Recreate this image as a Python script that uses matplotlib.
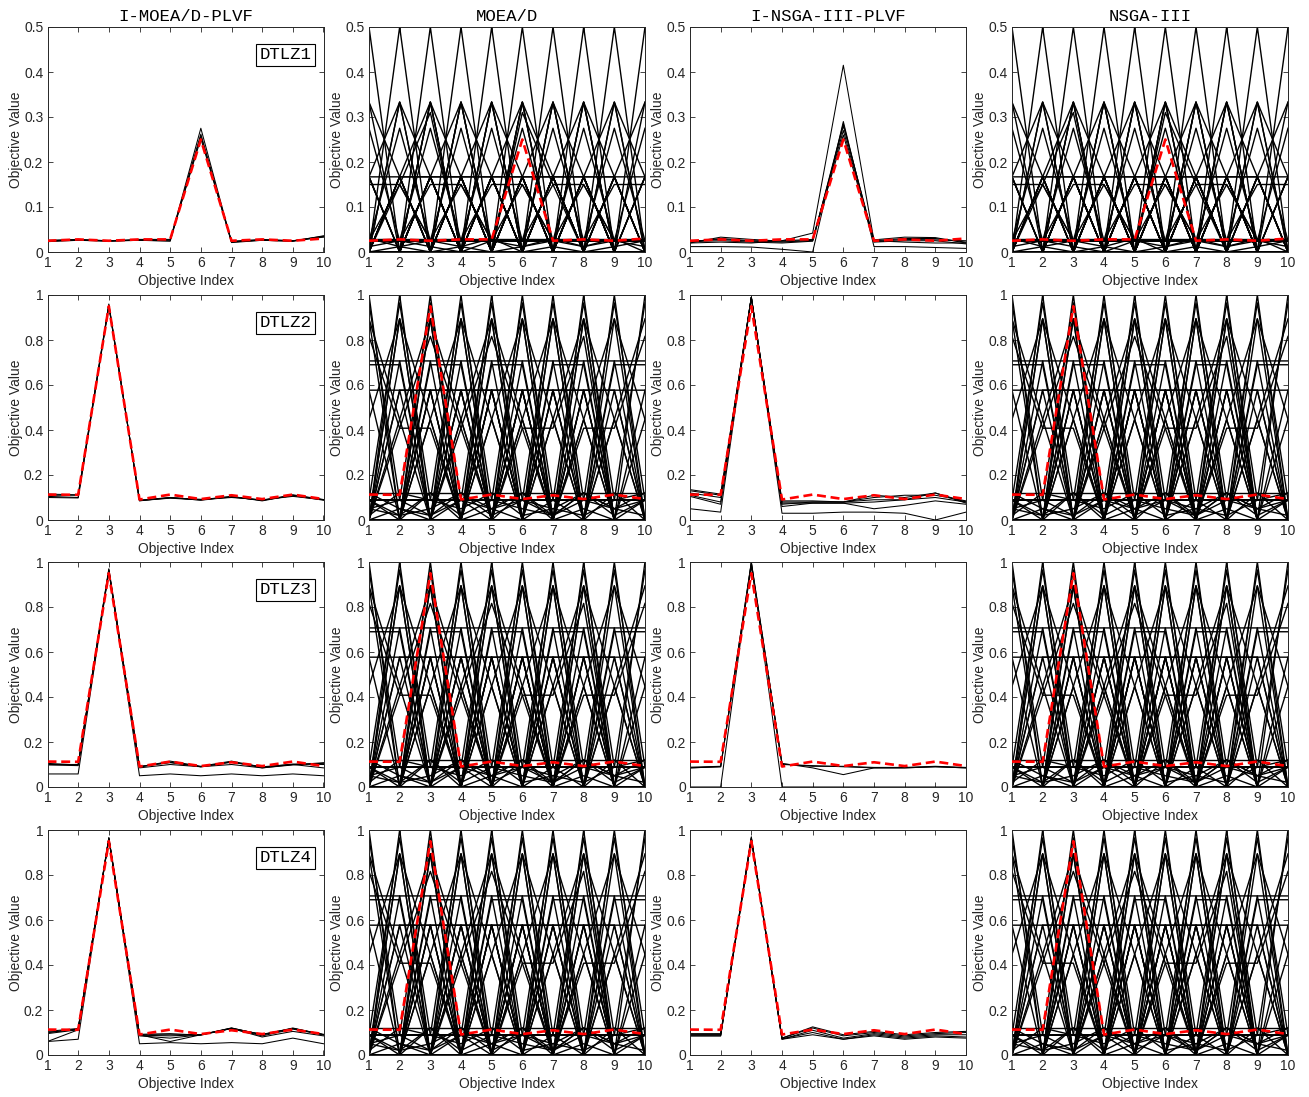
#!/usr/bin/env python3
"""Parallel-coordinate plots of final populations on 10-objective DTLZ1-4."""

import numpy as np
import matplotlib
matplotlib.use("Agg")
import matplotlib.pyplot as plt

OBJ_INDEX = np.arange(1, 11)

ALGORITHMS = ["I-MOEA/D-PLVF", "MOEA/D", "I-NSGA-III-PLVF", "NSGA-III"]
PROBLEMS = ["DTLZ1", "DTLZ2", "DTLZ3", "DTLZ4"]

# Reference (preferred) points, drawn as the red dashed line
REF_DTLZ1 = [0.025, 0.028, 0.025, 0.028, 0.028, 0.25, 0.025, 0.028, 0.025, 0.03]
REF_SPHERE = [0.113, 0.112, 0.95, 0.091, 0.113, 0.093, 0.11, 0.093, 0.113, 0.093]

# --- interactive methods: small populations around the reference point ---
IMOEAD_DTLZ1 = [
    [0.024, 0.027, 0.025, 0.026, 0.025, 0.275, 0.022, 0.027, 0.025, 0.035],
    [0.025, 0.027, 0.024, 0.027, 0.027, 0.262, 0.023, 0.026, 0.024, 0.034],
    [0.026, 0.028, 0.025, 0.028, 0.028, 0.252, 0.024, 0.028, 0.025, 0.033],
    [0.023, 0.026, 0.024, 0.026, 0.024, 0.258, 0.021, 0.026, 0.024, 0.036],
]
IMOEAD_DTLZ2 = [
    [0.105, 0.100, 0.955, 0.085, 0.100, 0.090, 0.105, 0.085, 0.110, 0.090],
    [0.100, 0.098, 0.950, 0.088, 0.100, 0.088, 0.102, 0.088, 0.108, 0.088],
    [0.110, 0.110, 0.960, 0.087, 0.098, 0.092, 0.100, 0.090, 0.105, 0.090],
    [0.115, 0.112, 0.955, 0.086, 0.097, 0.089, 0.104, 0.087, 0.112, 0.091],
]
IMOEAD_DTLZ3 = [
    [0.100, 0.100, 0.970, 0.090, 0.110, 0.090, 0.110, 0.090, 0.100, 0.105],
    [0.105, 0.098, 0.965, 0.088, 0.115, 0.092, 0.115, 0.088, 0.102, 0.100],
    [0.098, 0.095, 0.960, 0.092, 0.108, 0.090, 0.112, 0.085, 0.098, 0.108],
    [0.100, 0.100, 0.965, 0.085, 0.100, 0.090, 0.100, 0.085, 0.100, 0.085],
    [0.058, 0.058, 0.960, 0.050, 0.058, 0.050, 0.058, 0.050, 0.058, 0.050],
]
IMOEAD_DTLZ4 = [
    [0.100, 0.115, 0.965, 0.090, 0.090, 0.090, 0.120, 0.090, 0.120, 0.090],
    [0.105, 0.118, 0.960, 0.092, 0.095, 0.088, 0.118, 0.092, 0.118, 0.092],
    [0.060, 0.112, 0.960, 0.090, 0.060, 0.090, 0.118, 0.085, 0.115, 0.090],
    [0.060, 0.070, 0.965, 0.085, 0.075, 0.090, 0.118, 0.080, 0.105, 0.085],
    [0.095, 0.112, 0.962, 0.050, 0.055, 0.050, 0.055, 0.050, 0.075, 0.050],
    [0.100, 0.115, 0.965, 0.088, 0.085, 0.090, 0.120, 0.090, 0.118, 0.090],
]
INSGA_DTLZ1 = [
    [0.020, 0.022, 0.020, 0.025, 0.042, 0.415, 0.025, 0.022, 0.020, 0.020],
    [0.012, 0.012, 0.011, 0.006, 0.000, 0.290, 0.012, 0.012, 0.010, 0.008],
    [0.022, 0.030, 0.025, 0.025, 0.028, 0.270, 0.025, 0.030, 0.030, 0.022],
    [0.020, 0.033, 0.028, 0.024, 0.025, 0.280, 0.027, 0.033, 0.032, 0.020],
    [0.024, 0.028, 0.024, 0.022, 0.026, 0.260, 0.023, 0.028, 0.027, 0.025],
    [0.023, 0.025, 0.022, 0.020, 0.024, 0.285, 0.022, 0.025, 0.025, 0.018],
]
INSGA_DTLZ2 = [
    [0.130, 0.110, 0.990, 0.080, 0.080, 0.080, 0.090, 0.090, 0.100, 0.080],
    [0.120, 0.100, 0.990, 0.075, 0.075, 0.075, 0.080, 0.090, 0.120, 0.075],
    [0.135, 0.115, 0.990, 0.085, 0.085, 0.080, 0.100, 0.110, 0.110, 0.085],
    [0.110, 0.080, 0.990, 0.070, 0.080, 0.080, 0.110, 0.100, 0.120, 0.080],
    [0.105, 0.070, 0.990, 0.060, 0.075, 0.075, 0.050, 0.065, 0.085, 0.070],
    [0.050, 0.035, 0.990, 0.030, 0.030, 0.035, 0.035, 0.030, 0.000, 0.035],
]
INSGA_DTLZ3 = [
    [0.085, 0.090, 1.000, 0.100, 0.095, 0.090, 0.085, 0.085, 0.090, 0.085],
    [0.088, 0.092, 0.995, 0.102, 0.092, 0.092, 0.087, 0.087, 0.092, 0.087],
    [0.085, 0.090, 0.980, 0.105, 0.085, 0.055, 0.085, 0.085, 0.090, 0.085],
    [0.000, 0.000, 1.000, 0.000, 0.000, 0.000, 0.000, 0.000, 0.000, 0.000],
]
INSGA_DTLZ4 = [
    [0.090, 0.090, 0.965, 0.075, 0.120, 0.085, 0.100, 0.085, 0.095, 0.100],
    [0.085, 0.085, 0.960, 0.070, 0.110, 0.075, 0.095, 0.080, 0.090, 0.090],
    [0.090, 0.090, 0.965, 0.072, 0.100, 0.070, 0.090, 0.075, 0.085, 0.080],
    [0.095, 0.095, 0.970, 0.075, 0.125, 0.090, 0.105, 0.090, 0.100, 0.105],
    [0.085, 0.085, 0.960, 0.070, 0.090, 0.070, 0.085, 0.070, 0.080, 0.075],
]

# --- baseline methods: populations spread over the whole front ---
# each row is one solution, one character per objective, looked up in *_LEVELS
LINEAR_LEVELS = {"0": 0.0, "z": 0.012, "a": 0.025, "c": 0.03, "q": 0.15,
                 "s": 0.167, "p": 0.275, "r": 0.31, "t": 0.333, "h": 0.5}
LINEAR_ROWS = [
    "h000000000", "0h00000000", "00h0000000", "000h000000", "0000h00000",
    "00000h0000", "000000h000", "0000000h00", "00000000h0", "000000000h",
    "ts00000000", "st00000000", "0ts0000000", "0st0000000", "00ts000000",
    "00st000000", "000ts00000", "000st00000", "0000ts0000", "0000st0000",
    "00000ts000", "00000st000", "000000ts00", "000000st00", "0000000ts0",
    "0000000st0", "00000000ts", "00000000st",
    "t0s0000000", "0t0s000000", "00t0s00000", "000t0s0000", "0000t0s000",
    "00000t0s00", "000000t0s0", "0000000t0s", "s0t0000000", "0s0t000000",
    "00s0t00000", "000s0t0000", "0000s0t000", "00000s0t00", "000000s0t0",
    "0000000s0t",
    "sss0000000", "0sss000000", "00sss00000", "000sss0000", "0000sss000",
    "00000sss00", "000000sss0", "0000000sss",
    "s0s0s00000", "0s0s0s0000", "00s0s0s000", "000s0s0s00", "0000s0s0s0",
    "00000s0s0s", "s00s00s000", "0s00s00s00", "00s00s00s0", "000s00s00s",
    "s0s00s0s00", "0s0s00s0s0", "00s0s00s0s",
    "paaaaaaaaa", "apaaaaaaaa", "aapaaaaaaa", "aaapaaaaaa", "aaaapaaaaa",
    "aaaaapaaaa", "aaaaaapaaa", "aaaaaaapaa", "aaaaaaaapa", "aaaaaaaaap",
    "qqaaaaaaaa", "aaqqaaaaaa", "aaaaqqaaaa", "aaaaaaqqaa", "aaaaaaaaqq",
    "aqaqaaaaaa", "aaaaaqaqaa", "0qr0000000", "00000rq000",
    "zaz0azczaz", "0z0zc0z0za", "czaz0zazc0", "cccccccccc",
]

SPHERE_LEVELS = {"0": 0.0, "z": 0.02, "c": 0.05, "a": 0.088, "b": 0.12,
                 "3": 0.408, "4": 0.447, "5": 0.577, "6": 0.69, "7": 0.707,
                 "8": 0.816, "9": 0.894, "p": 0.965, "1": 1.0}
SPHERE_ROWS = [
    "1000000000", "0100000000", "0010000000", "0001000000", "0000100000",
    "0000010000", "0000001000", "0000000100", "0000000010", "0000000001",
    "9400000000", "4900000000", "0940000000", "0490000000", "0094000000",
    "0049000000", "0009400000", "0004900000", "0000940000", "0000490000",
    "0000094000", "0000049000", "0000009400", "0000004900", "0000000940",
    "0000000490", "0000000094", "0000000049",
    "9040000000", "0904000000", "0090400000", "0009040000", "0000904000",
    "0000090400", "0000009040", "0000000904",
    "5550000000", "0555000000", "0055500000", "0005550000", "0000555000",
    "0000055500", "0000005550", "0000000555",
    "5050500000", "0505050000", "0050505000", "0005050500", "0000505050",
    "0000050505",
    "7700000000", "0770000000", "0077000000", "0007700000", "0000770000",
    "0000077000", "0000007700", "0000000770", "0000000077",
    "6600000000", "0066000000", "0000660000", "0000006600", "0000000066",
    "8330000000", "0383000000", "0003830000", "0000033800", "0000000338",
    "paaaaaaaaa", "apaaaaaaaa", "aapaaaaaaa", "aaapaaaaaa", "aaaapaaaaa",
    "aaaaapaaaa", "aaaaaapaaa", "aaaaaaapaa", "aaaaaaaapa", "aaaaaaaaap",
    "bczacbzaca", "czbzaczbcz", "azcbzacbza", "zbacbzczab", "cazbcazbcb",
    "0c0a0b0c0a", "a0b0c0a0b0", "bbbbbbbbbb",
]


def decode(rows, levels):
    return [[levels[ch] for ch in row] for row in rows]


LINEAR_POP = decode(LINEAR_ROWS, LINEAR_LEVELS)
SPHERE_POP = decode(SPHERE_ROWS, SPHERE_LEVELS)

POPULATIONS = {
    ("DTLZ1", "I-MOEA/D-PLVF"): IMOEAD_DTLZ1,
    ("DTLZ2", "I-MOEA/D-PLVF"): IMOEAD_DTLZ2,
    ("DTLZ3", "I-MOEA/D-PLVF"): IMOEAD_DTLZ3,
    ("DTLZ4", "I-MOEA/D-PLVF"): IMOEAD_DTLZ4,
    ("DTLZ1", "I-NSGA-III-PLVF"): INSGA_DTLZ1,
    ("DTLZ2", "I-NSGA-III-PLVF"): INSGA_DTLZ2,
    ("DTLZ3", "I-NSGA-III-PLVF"): INSGA_DTLZ3,
    ("DTLZ4", "I-NSGA-III-PLVF"): INSGA_DTLZ4,
}
for prob in PROBLEMS:
    for alg in ("MOEA/D", "NSGA-III"):
        POPULATIONS[(prob, alg)] = LINEAR_POP if prob == "DTLZ1" else SPHERE_POP

DARK = "#262626"
SANS = "Liberation Sans"
MONO = "Liberation Mono"

W, H = 1309, 1097
COL_LEFT = [47.5, 369, 690, 1012]
ROW_TOP = [27, 295, 562, 830]
AX_W, AX_H = 276, 225

fig = plt.figure(figsize=(W / 100, H / 100), dpi=100)

for r, prob in enumerate(PROBLEMS):
    for c, alg in enumerate(ALGORITHMS):
        rect = [COL_LEFT[c] / W, 1 - (ROW_TOP[r] + AX_H) / H, AX_W / W, AX_H / H]
        ax = fig.add_axes(rect)

        dense = alg in ("MOEA/D", "NSGA-III")
        for sol in POPULATIONS[(prob, alg)]:
            ax.plot(OBJ_INDEX, sol, color="black",
                    linewidth=1.0 if dense else 0.75)
        ref = REF_DTLZ1 if prob == "DTLZ1" else REF_SPHERE
        ax.plot(OBJ_INDEX, ref, color="red", linewidth=1.9,
                linestyle=(0, (3.4, 1.8)), zorder=5)

        ax.set_xlim(1, 10)
        ax.set_xticks(OBJ_INDEX)
        if prob == "DTLZ1":
            ax.set_ylim(0, 0.5)
            ax.set_yticks([0, 0.1, 0.2, 0.3, 0.4, 0.5])
            ax.set_yticklabels(["0", "0.1", "0.2", "0.3", "0.4", "0.5"])
        else:
            ax.set_ylim(0, 1)
            ax.set_yticks([0, 0.2, 0.4, 0.6, 0.8, 1])
            ax.set_yticklabels(["0", "0.2", "0.4", "0.6", "0.8", "1"])

        ax.tick_params(direction="in", top=True, right=True, length=3.5,
                       width=0.6, color=DARK, labelcolor=DARK, labelsize=10,
                       pad=3)
        for lab in ax.get_xticklabels() + ax.get_yticklabels():
            lab.set_fontfamily(SANS)
        for sp in ax.spines.values():
            sp.set_color(DARK)
            sp.set_linewidth(0.7)

        ax.set_xlabel("Objective Index", fontsize=10, family=SANS,
                      color=DARK, labelpad=2.5)
        ax.set_ylabel("Objective Value", fontsize=10, family=SANS,
                      color=DARK, labelpad=1)

        if r == 0:
            ax.set_title(alg, fontsize=12.5, family=MONO, color="black", pad=4)
        if c == 0:
            ax.text(0.955, 0.91, prob, transform=ax.transAxes, ha="right",
                    va="top", fontsize=12.5, family=MONO, zorder=6,
                    bbox=dict(boxstyle="square,pad=0.2", fc="white",
                              ec="black", lw=0.8))

fig.savefig("out.png", dpi=100)
